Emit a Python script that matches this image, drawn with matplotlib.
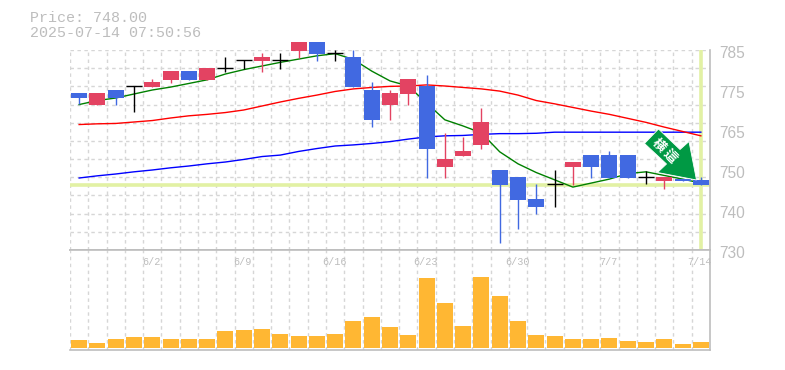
# -*- coding: utf-8 -*-
import matplotlib
matplotlib.use("Agg")
import matplotlib.pyplot as plt
import numpy as np
from matplotlib.patches import Polygon
from matplotlib.transforms import IdentityTransform

# 0 = blue, 1 = red, 2 = black doji
kind = [0,1,0,2,1,1,0,1,2,2,1,2,1,0,2,0,0,1,1,0,1,1,1,0,0,0,2,1,0,0,0,2,1,0,0]
top = [773.2,773.2,774,775,776.2,779.2,779.2,780,780,782.2,783.1,782.2,787.2,787.2,784.1,783.1,774,773.2,777,775.1,
       755,757.2,765.2,752,750.1,744,748.1,754.2,756.1,756.1,756.1,750.1,750.1,749.5,749.2]
bottom = [771.8,769.9,771.8,775,774.8,776.8,776.8,776.8,780,782.2,782,782.2,784.7,783.9,784.1,774.8,765.8,769.9,772.9,757.8,
          752.8,755.9,758.9,747.9,743.8,741.8,748.1,752.8,752.8,749.8,749.8,750.1,749,749,747.9]
high = [773.2,773.2,774,775,777,779.2,779.2,780,783.1,782.2,784.2,784.2,787.2,787.2,785,785,776.2,774,777,778.1,
        762.2,761.1,769.1,752,750.1,748.2,752,754.2,756.1,757.2,756.1,751.7,750.1,749.5,750.1]
low = [770.1,769.9,769.9,768,774.8,775.9,776.8,776.8,779,779.7,779,779.9,782.8,782,782,774.8,763.8,765.8,769.9,749.8,
       749.8,755.9,757.8,731.9,735.8,739.9,741.8,747.9,749.8,749.8,749.8,748.1,746.8,749,747.9]
volume = [8,5,9,11,11,9,9,9,17,18,19,14,12,12,14,27,31,21,13,70,45,22,71,52,27,13,12,9,9,10,7,6,9,4,6]
ma_green = [770,771.1,771.8,772.9,774,774.8,775.8,776.8,778.4,779.6,780.6,781.6,782.5,783.4,784,782.4,779.2,776.5,775.1,770.4,
            765.8,764.1,762.2,757,753.7,751.3,749.3,747.3,748.4,749.5,751,751.5,750.5,749.5,748.4]
ma_red = [764.5,764.7,764.8,765.2,765.6,766.3,766.9,767.3,767.8,768.5,769.6,770.7,771.7,772.6,773.6,774.3,774.7,775,775.1,775.4,
          775.1,774.7,774.3,773.7,772.6,771.1,770.2,769.2,768.2,767.3,766.2,765.1,763.8,762.6,761.4]
ma_blue = [749.8,750.4,750.9,751.5,752,752.6,753.1,753.7,754.2,754.9,755.7,756.1,757.1,757.9,758.6,758.9,759.3,759.8,760.5,761.1,
           761.4,761.5,761.8,762,762,762.1,762.4,762.4,762.4,762.4,762.4,762.4,762.4,762.4,762.4]
last_price = 748
date_idx = [4,9,14,19,24,29,34]
date_labels = ["6/2","6/9","6/16","6/23","6/30","7/7","7/14"]
price_pos = [785,774,763,752,741,730]
price_labels = ["785","775","765","750","740","730"]

W, H = 785, 370
GREY = "#bdbdbd"
GRID = "#d6d6d6"
BAND = "#e2f1a4"
colors = {0: "#4169e1", 1: "#e34362", 2: "black"}

fig = plt.figure(figsize=(W / 100, H / 100), dpi=100)
ax = fig.add_axes([70 / W, 1 - 250 / H, 640 / W, 200 / H])
vx = fig.add_axes([70 / W, 1 - 350 / H, 640 / W, 100 / H])

x = np.arange(35)
for a in (ax, vx):
    a.set_xlim(-0.5, 34.5)
    a.set_xticks(np.arange(-0.5, 34.5, 1))
    a.grid(axis="x", color=GRID, linestyle=(0, (2.5, 2.5)), linewidth=1)
    a.tick_params(length=0, labelbottom=False, labelleft=False)
    a.set_axisbelow(True)
    for s in a.spines.values():
        s.set_visible(False)
    a.spines["right"].set_visible(True)
    a.spines["right"].set_color(GREY)
    a.spines["bottom"].set_visible(True)
    a.spines["bottom"].set_color(GREY)
    a.spines["right"].set_linewidth(1.2)
    a.spines["bottom"].set_linewidth(1.2)

ax.set_ylim(730, 785)
ax.set_yticks(np.arange(730, 786, 5))
ax.grid(axis="y", color=GRID, linestyle=(0, (2.5, 2.5)), linewidth=1)
vx.set_ylim(-2, 98)
vx.spines["top"].set_visible(True)
vx.spines["top"].set_color(GREY)
vx.spines["top"].set_linewidth(1.2)

ax.axhline(last_price, color=BAND, linewidth=2.6, zorder=1)
ax.plot([34, 34], [730.4, 785], color=BAND, linewidth=2.6, zorder=1, solid_capstyle="butt")

ax.plot(x, ma_blue, color="#0000ff", linewidth=1, zorder=2)
ax.plot(x, ma_red, color="#ff0000", linewidth=1, zorder=2)
ax.plot(x, ma_green, color="#008000", linewidth=1, zorder=2)

for i in x:
    c = colors[kind[i]]
    ax.plot([i, i], [low[i], high[i]], color=c, linewidth=1, zorder=3, clip_on=False, solid_capstyle="butt")
    if kind[i] == 2:
        ax.plot([i - 0.44, i + 0.44], [top[i], top[i]], color=c, linewidth=1, zorder=3, solid_capstyle="butt")
    else:
        ax.bar(i, top[i] - bottom[i], bottom=bottom[i], width=0.875, color=c, zorder=3, clip_on=False)

vx.bar(x, volume, width=0.875, color="#ffb733", zorder=3)

for i, lab in zip(date_idx, date_labels):
    vx.annotate(lab, (i, 98), xytext=(-0.7, -8.5), textcoords="offset points", ha="center", va="center",
                family="Liberation Mono", fontsize=7.3, color=GREY, annotation_clip=False, zorder=4)
for p, lab in zip(price_pos, price_labels):
    ax.annotate(lab, (34.5, p), xytext=(7, -2.2), textcoords="offset points", ha="left", va="center",
                family="Liberation Sans", fontsize=11.2, color=GREY, annotation_clip=False)

fig.text(30 / W, 1 - 18 / H, f"Price: {last_price:.2f}", family="Liberation Mono", fontsize=10.8, color=GREY, va="center")
fig.text(30 / W, 1 - 33 / H, "2025-07-14 07:50:56", family="Liberation Mono", fontsize=10.8, color=GREY, va="center")

# arrow badge, pixel positions on the figure
arrow_px = [(644.5, 143.5), (658.5, 129), (680, 149.5), (689, 141.5), (696.5, 180), (657.5, 172.5), (666.5, 164)]
fig.add_artist(Polygon([(px, H - py) for px, py in arrow_px], closed=True, facecolor="#009944", edgecolor="white",
                       linewidth=0.6, transform=IdentityTransform(), zorder=6))
fig.text(658.5 / W, 1 - 145 / H, "横", color="white", fontsize=9.5, rotation=-45, ha="center", va="center",
         family=["Noto Sans CJK JP", "DejaVu Sans"], fontweight="bold", zorder=7)
fig.text(670 / W, 1 - 156 / H, "這", color="white", fontsize=9.5, rotation=-45, ha="center", va="center",
         family=["Noto Sans CJK JP", "DejaVu Sans"], fontweight="bold", zorder=7)

fig.savefig("out.png", dpi=100)
